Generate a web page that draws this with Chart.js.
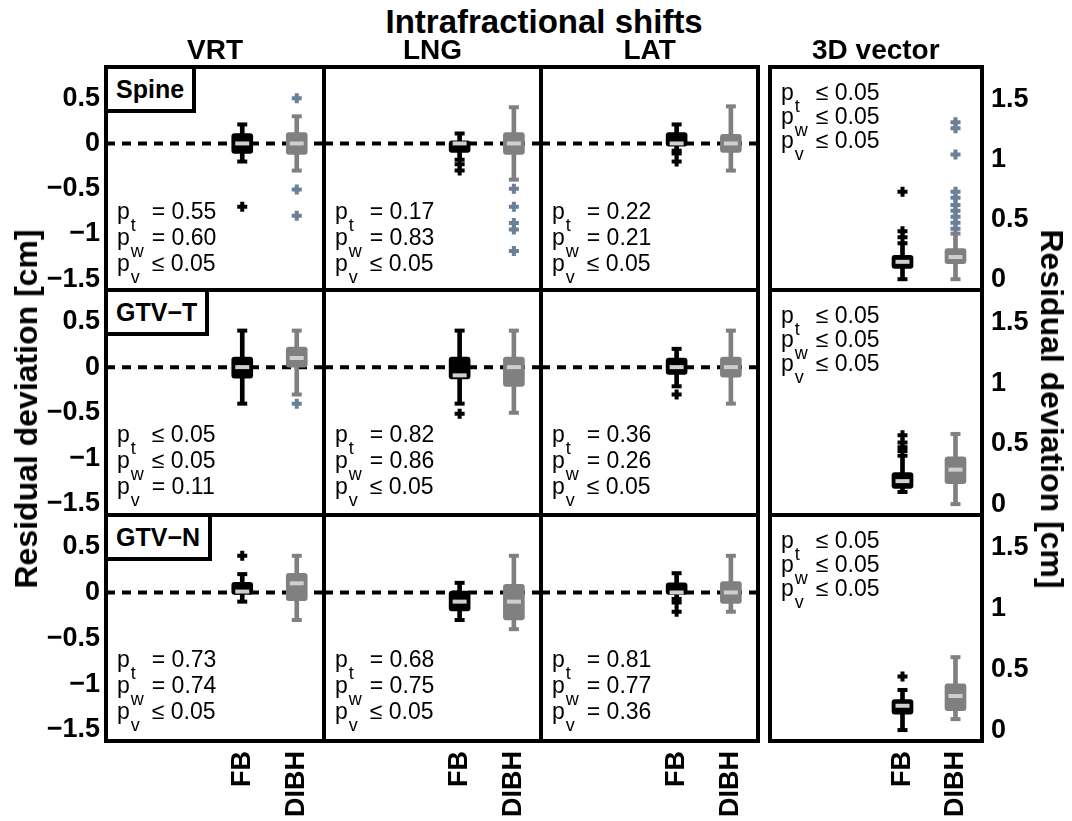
<!DOCTYPE html>
<html>
<head>
<meta charset="utf-8">
<script src="https://cdn.jsdelivr.net/npm/chart.js@4.4.1/dist/chart.umd.min.js"></script>
<style>
  html, body { margin: 0; padding: 0; background: #fff; overflow: hidden; }
  #fig { position: relative; width: 1072px; height: 821px; overflow: hidden;
         font-family: "Liberation Sans", Arial, Helvetica, sans-serif; color: #000; }
  canvas { position: absolute; }
  .t { position: absolute; white-space: nowrap; font-weight: bold; line-height: 1; }
  .pv { position: absolute; white-space: nowrap; font-size: 23px; }
  .pv .s { display: inline-block; width: 21px; font-size: 18px; line-height: 1; position: relative; top: 12px; padding-left: 1px; }
  .lbl { position: absolute; border: 4px solid #000; background: #fff; font-weight: bold;
         font-size: 25px; height: 40px; line-height: 40px; padding: 0 8px; white-space: nowrap; }
</style>
</head>
<body>
<div id="fig"></div>
<script>
const rowNames = ['Spine', 'GTV\u2212T', 'GTV\u2212N'];
const colNames = ['VRT', 'LNG', 'LAT', '3D vector'];
const groups = ['FB', 'DIBH'];
const shiftTicks = [-1.5, -1, -0.5, 0, 0.5];
const vectorTicks = [0, 0.5, 1, 1.5];

// box stats [lower whisker, q1, median, q3, upper whisker], panels row by row
const fbBoxes = [
  [-0.20, -0.11, 0.00, 0.11, 0.21], [-0.18, -0.10, 0.00, 0.03, 0.11], [-0.08, -0.03, 0.00, 0.12, 0.21], [0.00, 0.09, 0.145, 0.20, 0.30],
  [-0.40, -0.12, 0.00, 0.11, 0.40], [-0.40, -0.13, -0.09, 0.11, 0.40], [-0.21, -0.08, 0.00, 0.10, 0.20], [0.10, 0.13, 0.19, 0.26, 0.40],
  [-0.10, -0.02, 0.01, 0.11, 0.20], [-0.30, -0.20, -0.10, 0.015, 0.105], [-0.07, -0.02, 0.00, 0.105, 0.21], [0.00, 0.13, 0.20, 0.25, 0.33]
];
const dibhBoxes = [
  [-0.30, -0.12, 0.00, 0.12, 0.30], [-0.40, -0.12, 0.00, 0.12, 0.40], [-0.30, -0.10, 0.00, 0.10, 0.41], [0.00, 0.13, 0.185, 0.255, 0.38],
  [-0.30, 0.00, 0.10, 0.22, 0.40], [-0.50, -0.21, 0.00, 0.11, 0.40], [-0.40, -0.11, 0.00, 0.11, 0.40], [0.00, 0.17, 0.285, 0.39, 0.58],
  [-0.30, -0.09, 0.10, 0.21, 0.40], [-0.40, -0.30, -0.10, 0.09, 0.40], [-0.21, -0.12, 0.00, 0.12, 0.40], [0.09, 0.16, 0.28, 0.38, 0.60]
];
const fbOutliers = [
  [-0.70], [-0.23, -0.30], [-0.11, -0.20], [0.35, 0.40, 0.73],
  [], [-0.51], [-0.30], [0.44, 0.47, 0.51, 0.57],
  [0.40], [], [-0.11, -0.21], [0.44]
];
const dibhOutliers = [
  [0.50, -0.51, -0.80], [-0.50, -0.70, -0.88, -0.95, -1.19], [], [0.42, 0.47, 0.52, 0.57, 0.62, 0.68, 0.73, 1.04, 1.26, 1.31],
  [-0.40], [], [], [],
  [], [], [], []
];
const pT = ['= 0.55', '= 0.17', '= 0.22', '\u2264 0.05', '\u2264 0.05', '= 0.82', '= 0.36', '\u2264 0.05', '= 0.73', '= 0.68', '= 0.81', '\u2264 0.05'];
const pW = ['= 0.60', '= 0.83', '= 0.21', '\u2264 0.05', '\u2264 0.05', '= 0.86', '= 0.26', '\u2264 0.05', '= 0.74', '= 0.75', '= 0.77', '\u2264 0.05'];
const pV = ['\u2264 0.05', '\u2264 0.05', '\u2264 0.05', '\u2264 0.05', '= 0.11', '\u2264 0.05', '\u2264 0.05', '\u2264 0.05', '\u2264 0.05', '\u2264 0.05', '= 0.36', '\u2264 0.05'];

// panel layout in page pixels
const colLeft = [106, 324, 541, 770];
const colWidth = [218, 217, 217, 212];
const rowTop = [67, 290, 515];
const rowHeight = [223, 225, 226];

const FONT = "'Liberation Sans', Arial, Helvetica, sans-serif";
const tickFont = { family: FONT, size: 27, weight: 'bold' };
const boxColors = ['#000000', '#808080'];
const outColors = ['#000000', '#6a7f98'];
const fig = document.getElementById('fig');

const framePlugin = {
  id: 'frame',
  afterDraw(chart) {
    const a = chart.chartArea;
    const ctx = chart.ctx;
    ctx.save();
    ctx.lineWidth = 4;
    ctx.strokeStyle = '#000';
    ctx.strokeRect(a.left, a.top, a.right - a.left, a.bottom - a.top);
    ctx.restore();
  }
};

function fmt(v) {
  return String(v).replace('-', '\u2212');
}

function groupDatasets(stats, outs, g) {
  const x = g + 1;
  const col = boxColors[g];
  const pt = (style, r, w, c, order, data) => ({
    type: 'scatter', data, order,
    pointStyle: style, pointRadius: r, pointHoverRadius: r,
    pointBorderWidth: w, pointBorderColor: c, pointBackgroundColor: c
  });
  return [
    { type: 'bar', data: [{ x, y: [stats[0], stats[4]] }], backgroundColor: col, barThickness: 4,
      grouped: false, borderWidth: 0, borderSkipped: false, order: 5 },
    pt('line', 5, 4, col, 4, [{ x, y: stats[0] }, { x, y: stats[4] }]),
    { type: 'bar', data: [{ x, y: [stats[1], stats[3]] }], backgroundColor: col, barThickness: 21,
      grouped: false, borderWidth: 0, borderSkipped: false, borderRadius: 3, order: 3 },
    pt('line', 7, 4, '#cfcfcf', 2, [{ x, y: stats[2] }]),
    pt('cross', 5, 4, outColors[g], 1, outs.map(y => ({ x, y })))
  ];
}

function makePanel(r, c) {
  const i = r * 4 + c;
  const isVec = c === 3;
  const showY = c === 0 || isVec;
  const m = 3;
  const padL = c === 0 ? 70 : 0;
  const padR = isVec ? 70 : 0;
  const padB = r === 2 ? 95 : 0;
  const w = colWidth[c] + padL + padR + 2 * m;
  const h = rowHeight[r] + padB + 2 * m;
  const cv = document.createElement('canvas');
  cv.width = w; cv.height = h;
  cv.style.width = w + 'px'; cv.style.height = h + 'px';
  cv.style.left = (colLeft[c] - padL - m) + 'px';
  cv.style.top = (rowTop[r] - m) + 'px';
  fig.appendChild(cv);

  const datasets = [];
  if (!isVec) {
    datasets.push({ type: 'line', data: [{ x: -1.5, y: 0 }, { x: 2.5, y: 0 }], borderColor: '#000',
      borderWidth: 4, borderDash: [9, 7], pointRadius: 0, order: 9 });
  }
  datasets.push(...groupDatasets(fbBoxes[i], fbOutliers[i], 0));
  datasets.push(...groupDatasets(dibhBoxes[i], dibhOutliers[i], 1));

  new Chart(cv, {
    type: 'bar',
    data: { datasets },
    options: {
      responsive: false,
      animation: false,
      devicePixelRatio: 1,
      events: [],
      layout: { padding: m, autoPadding: false },
      plugins: { legend: { display: false }, tooltip: { enabled: false } },
      scales: {
        x: {
          type: 'linear', min: -1.5, max: 2.5, offset: false, display: r === 2,
          grid: { display: false, drawTicks: false }, border: { display: false },
          afterBuildTicks: s => { s.ticks = groups.map((g, k) => ({ value: k + 1 })); },
          afterFit: s => { s.height = padB; s.paddingLeft = 0; s.paddingRight = 0; },
          ticks: { callback: v => groups[v - 1] || '', minRotation: 90, maxRotation: 90, autoSkip: false,
                   padding: 10, font: tickFont, color: '#000' }
        },
        y: {
          type: 'linear', min: isVec ? -0.09 : -1.62, max: isVec ? 1.77 : 0.845,
          position: isVec ? 'right' : 'left', display: showY,
          grid: { display: false, drawTicks: false }, border: { display: false },
          afterBuildTicks: s => { s.ticks = (isVec ? vectorTicks : shiftTicks).map(v => ({ value: v })); },
          afterFit: s => { s.width = showY ? 70 : 0; s.paddingTop = 0; s.paddingBottom = 0; },
          ticks: { callback: v => fmt(v), padding: isVec ? 9 : 6, font: tickFont, color: '#000' }
        }
      }
    },
    plugins: [framePlugin]
  });

  // p-value block
  const baseline = isVec ? 33 : 152;
  const lh = isVec ? 24 : 26;
  const pv = document.createElement('div');
  pv.className = 'pv';
  pv.style.lineHeight = lh + 'px';
  pv.style.left = (colLeft[c] + 11) + 'px';
  pv.style.top = (rowTop[r] + baseline - (lh === 26 ? 21 : 20)) + 'px';
  const subs = ['t', 'w', 'v'];
  const vals = [pT[i], pW[i], pV[i]];
  pv.innerHTML = subs.map((s, k) => '<div>p<span class="s">' + s + '</span>' + vals[k] + '</div>').join('');
  fig.appendChild(pv);
}

for (let r = 0; r < 3; r++) {
  for (let c = 0; c < 4; c++) makePanel(r, c);
}

function addText(txt, size, cx, baseline) {
  const d = document.createElement('div');
  d.className = 't';
  d.textContent = txt;
  d.style.fontSize = size + 'px';
  d.style.top = (baseline - 0.8465 * size) + 'px';
  fig.appendChild(d);
  d.style.left = (cx - d.offsetWidth / 2) + 'px';
  return d;
}

addText('Intrafractional shifts', 33, 544, 33);
colNames.forEach((n, c) => addText(n, 28, colLeft[c] + colWidth[c] / 2, 60));

rowNames.forEach((n, r) => {
  const d = document.createElement('div');
  d.className = 'lbl';
  d.textContent = n;
  d.style.left = '104px';
  d.style.top = (rowTop[r] - 2) + 'px';
  fig.appendChild(d);
});

function addAxisTitle(cx, cy, deg) {
  const d = document.createElement('div');
  d.className = 't';
  d.textContent = 'Residual deviation [cm]';
  d.style.fontSize = '32px';
  d.style.left = cx + 'px';
  d.style.top = cy + 'px';
  d.style.transform = 'translate(-50%, -50%) rotate(' + deg + 'deg)';
  fig.appendChild(d);
}
addAxisTitle(26, 409, -90);
addAxisTitle(1052, 409, 90);
</script>
</body>
</html>
